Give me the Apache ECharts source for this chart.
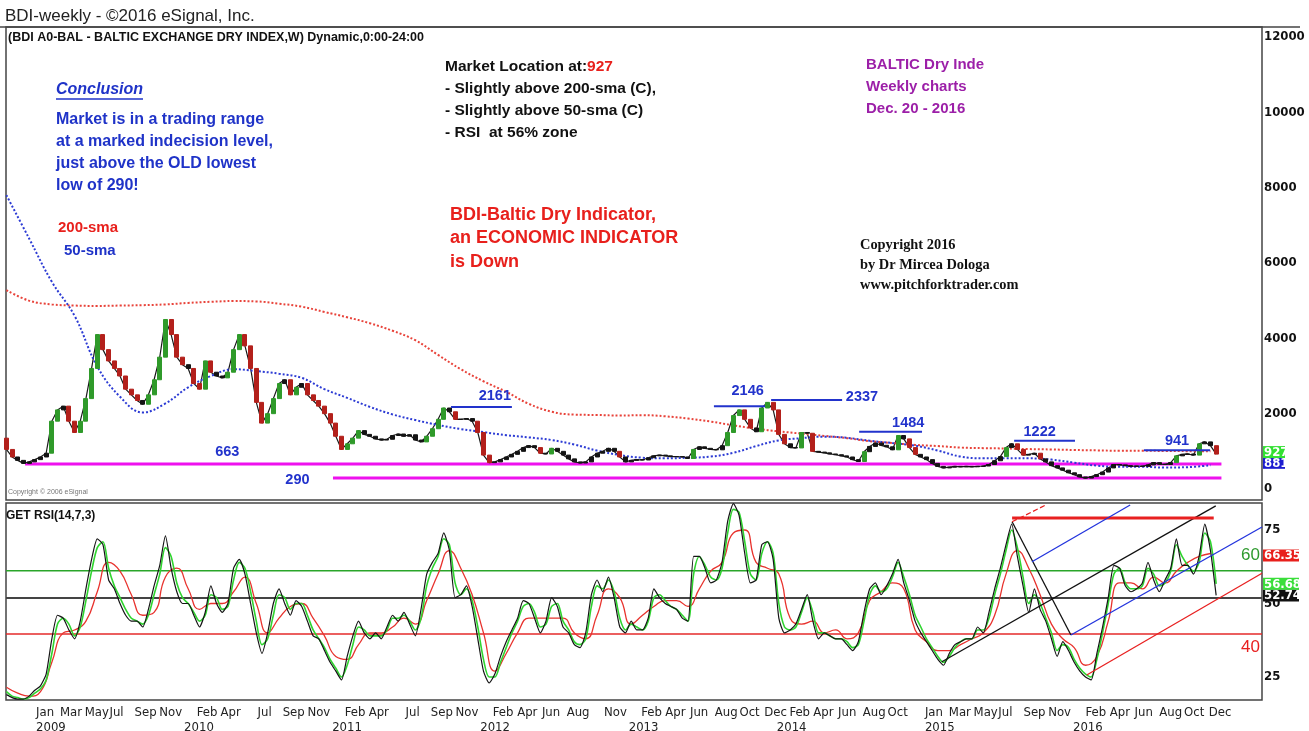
<!DOCTYPE html>
<html><head><meta charset="utf-8">
<script src="https://cdn.jsdelivr.net/npm/echarts@6/dist/echarts.min.js"></script>
<style>html,body{margin:0;padding:0;background:#fff;}#c{width:1309px;height:731px;}</style>
</head><body><div id="c"></div>
<script>
// ---------------- DATA ----------------
const START_DATE = '2008-10-20';   // first bar
const STEP_DAYS = 14;              // one value every two weeks
const firstOpen = 1350;
const bdiClose = [
 1050, 850, 760, 680, 720, 780, 850, 950, 1800, 2100,
 2200, 1800, 1500, 1800, 2400, 3200, 4100, 3700, 3400, 3200,
 3000, 2650, 2500, 2350, 2250, 2500, 2900, 3500, 4500, 4100,
 3500, 3300, 3200, 2800, 2650, 3400, 3100, 3000, 2950, 3100,
 3700, 4100, 3800, 3200, 2300, 1750, 2000, 2400, 2800, 2900,
 2500, 2700, 2800, 2500, 2350, 2200, 2000, 1750, 1400, 1050,
 1200, 1350, 1550, 1450, 1400, 1330, 1300, 1320, 1420, 1460,
 1400, 1440, 1300, 1250, 1400, 1600, 1850, 2150, 2050, 1850,
 1850, 1870, 1800, 1500, 900, 700, 720, 780, 850, 920,
 1000, 1100, 1150, 1100, 950, 930, 1080, 1000, 900, 800,
 720, 690, 720, 850, 950, 1000, 1080, 1000, 850, 720,
 760, 780, 770, 830, 880, 900, 880, 860, 860, 850,
 810, 1050, 1120, 1080, 1050, 1040, 1150, 1500, 1950, 2100,
 1850, 1620, 1520, 2150, 2300, 2100, 1450, 1200, 1100, 1090,
 1500, 1480, 1000, 980, 960, 930, 910, 880, 850, 780,
 730, 990, 1130, 1220, 1160, 1120, 1040, 1420, 1330, 1100,
 920, 850, 780, 680, 600, 560, 580, 600, 590, 600,
 590, 600, 610, 650, 750, 860, 1100, 1200, 1050, 900,
 920, 950, 800, 720, 620, 560, 500, 430, 380, 320,
 290, 330, 380, 450, 560, 650, 640, 620, 600, 610,
 600, 640, 700, 660, 650, 700, 880, 920, 930, 900,
 1200, 1250, 1150, 927
];
const SMA_EVERY = 4; // moving averages read every 4th bar date
const sma50 = [
 7800, 6650, 5500, 4600, 3250, 2450, 2030, 2270, 2700, 3000,
 3180, 3130, 3060, 2950, 2650, 2420, 2180, 1980, 1830, 1700,
 1590, 1510, 1430, 1370, 1300, 1180, 1020, 900, 830, 815,
 830, 860, 960, 1140, 1290, 1350, 1390, 1360, 1280, 1220,
 1150, 1020, 860, 815, 815, 815, 780, 700, 620, 590,
 590, 570, 580, 630
];
const sma200 = [
 5280, 5000, 4900, 4870, 4860, 4870, 4880, 4900, 4940, 4970,
 4990, 4980, 4920, 4840, 4700, 4560, 4400, 4200, 3950, 3560,
 3180, 2860, 2580, 2260, 2050, 1975, 1965, 1950, 1960, 1930,
 1870, 1790, 1690, 1600, 1530, 1470, 1410, 1350, 1270, 1220,
 1170, 1140, 1100, 1085, 1075, 1060, 1050, 1035, 1025, 1015,
 1015, 1010, 1005, 1000
];
const rsiBlack = [
 19, 18, 17.5, 17.5, 18.5, 20.5, 22, 26, 38, 46,
 45, 41, 38, 44, 55, 65, 72, 70, 58, 55,
 50, 46, 44, 44, 42, 48, 56, 63, 73, 62,
 54, 50, 50, 46, 42, 47, 56, 50, 47, 50,
 62, 65, 60, 50, 40, 33, 40, 50, 55, 50,
 46, 51, 49, 44, 39, 38, 34, 30, 27, 24,
 32, 39, 44, 40, 38, 40, 38, 42, 46, 44,
 47, 43, 39, 48, 60, 64, 67, 74, 68, 52,
 53, 56, 49, 38, 27, 23, 26, 32, 37, 41,
 45, 51, 50, 45, 40, 44, 52, 49, 42, 40,
 36, 35, 40, 53, 58, 54, 59, 52, 42, 40,
 44, 41, 41, 45, 55, 52, 50, 49, 48, 45,
 44, 66, 66, 62, 57, 58, 64, 78, 84, 80,
 67, 57, 58, 70, 71, 65, 45, 40, 41, 43,
 48, 53, 44, 38, 40, 39, 38, 38, 36, 34,
 37, 47, 55, 57, 53, 56, 60, 65, 57, 51,
 44, 40, 37, 34, 31, 29, 33, 36, 37, 38,
 38, 42, 40, 47, 55, 62, 70, 77, 66, 56,
 47, 55, 48, 44, 38, 32, 37, 34, 30, 27,
 25, 24, 33, 42, 52, 63, 62, 56, 54, 55,
 57, 64, 58, 54, 58, 62, 72, 63, 63, 60,
 66, 77, 68, 52.74
];
const rsiGreen = [
 20, 18.5, 18, 17.5, 18, 19.5, 21, 24, 33, 43,
 45, 43, 39, 42, 51, 61, 69, 71, 62, 56,
 52, 48, 45, 44, 43, 46, 53, 60, 69, 66,
 57, 52, 50, 47, 44, 46, 53, 52, 48, 49,
 58, 64, 62, 54, 44, 36, 38, 46, 53, 52,
 48, 50, 50, 46, 41, 38, 35, 31, 28, 25,
 29, 36, 42, 41, 39, 39, 39, 41, 45, 45,
 46, 44, 41, 45, 56, 62, 66, 72, 70, 57,
 53, 55, 51, 42, 31, 25, 25, 30, 35, 40,
 44, 49, 50, 47, 42, 43, 49, 50, 44, 41,
 37, 36, 38, 49, 56, 55, 58, 54, 45, 41,
 43, 42, 41, 44, 52, 53, 51, 49, 48, 46,
 44, 60, 66, 63, 59, 58, 62, 74, 82, 81,
 71, 60, 58, 67, 71, 67, 50, 42, 41, 42,
 47, 52, 47, 40, 40, 39, 38, 38, 37, 35,
 36, 44, 53, 56, 54, 55, 59, 64, 59, 53,
 46, 42, 38, 35, 32, 30, 32, 35, 37, 38,
 38, 41, 41, 45, 53, 60, 68, 75, 69, 59,
 50, 53, 50, 45, 40, 34, 36, 35, 31, 28,
 26, 25, 31, 40, 50, 60, 62, 57, 55, 55,
 56, 62, 60, 56, 57, 61, 70, 66, 63, 61,
 64, 74, 71, 56.68
];
const RED_EVERY = 2; // slow RSI line read every 2nd bar date
const rsiRed = [
 21.5, 19.5, 18.5, 20, 30, 40, 41, 44, 54, 64,
 61, 53, 46, 47, 59, 62, 55, 48, 50, 50,
 54, 59, 50, 40, 45, 49, 50, 45, 39, 32,
 31, 36, 40, 40, 42, 45, 43, 51, 60, 68,
 62, 53, 40, 27, 33, 40, 45, 45, 45, 45,
 40, 38, 46, 55, 52, 43, 46, 49, 51, 51,
 49, 55, 61, 64, 74, 75, 64, 62, 60, 45,
 43, 44, 40, 41, 38, 40, 51, 54, 57, 55,
 41, 37, 34, 34, 36, 38, 40, 46, 60, 68,
 62, 53, 43, 38, 35, 29, 32, 44, 57, 57,
 55, 59, 57, 61, 64, 66, 67
];
const lastValues = { price: 927, sma50: 881, rsiSlow: 66.35, rsiMid: 56.68, rsiRaw: 52.74 };
const priceTicks = [0, 2000, 4000, 6000, 8000, 10000, 12000];
const rsiTicks = [25, 50, 75];
const rsiLevels = { upper: 61.1, middle: 51.9, lower: 39.6 };
const monthLabels = [
 ['2009-01','Jan'],['2009-03','Mar'],['2009-05','May'],['2009-07','Jul'],['2009-09','Sep'],['2009-11','Nov'],
 ['2010-02','Feb'],['2010-04','Apr'],['2010-07','Jul'],['2010-09','Sep'],['2010-11','Nov'],
 ['2011-02','Feb'],['2011-04','Apr'],['2011-07','Jul'],['2011-09','Sep'],['2011-11','Nov'],
 ['2012-02','Feb'],['2012-04','Apr'],['2012-06','Jun'],['2012-08','Aug'],['2012-11','Nov'],
 ['2013-02','Feb'],['2013-04','Apr'],['2013-06','Jun'],['2013-08','Aug'],['2013-10','Oct'],['2013-12','Dec'],
 ['2014-02','Feb'],['2014-04','Apr'],['2014-06','Jun'],['2014-08','Aug'],['2014-10','Oct'],
 ['2015-01','Jan'],['2015-03','Mar'],['2015-05','May'],['2015-07','Jul'],['2015-09','Sep'],['2015-11','Nov'],
 ['2016-02','Feb'],['2016-04','Apr'],['2016-06','Jun'],['2016-08','Aug'],['2016-10','Oct'],['2016-12','Dec']
];
const yearLabels = ['2009','2010','2011','2012','2013','2014','2015','2016'];
// horizontal support lines (magenta): [from, to, level, label]
const supportLines = [
 ['2008-12-05','2017-01-01',663,'663'],
 ['2011-01-03','2017-01-01',290,'290']
];
// resistance marks (blue): [from, to, level, label]
const resistanceLines = [
 ['2011-10-21','2012-03-19',2180,'2161'],
 ['2013-07-30','2013-12-03',2200,'2146'],
 ['2013-12-18','2014-06-11',2360,'2337'],
 ['2014-07-23','2014-12-25',1520,'1484'],
 ['2015-08-09','2016-01-06',1280,'1222'],
 ['2016-06-24','2016-12-04',1030,'941']
];
// RSI trend lines (pitchfork): pairs of [date, rsi]
const rsiTrend = {
 channelBlack: [['2015-02-12',30.2],['2016-12-18',83.2]],
 handleBlack:  [['2015-08-04',77.8],['2015-12-27',39.3]],
 topRed:       [['2015-08-04',79.1],['2016-12-13',79.1]],
 upperRedDash: [['2015-08-04',77.8],['2015-10-26',83.5]],
 upperBlue:    [['2015-09-22',64.2],['2016-05-21',83.5]],
 medianBlue:   [['2015-12-27',39.3],['2017-04-11',76.0]],
 lowerRed:     [['2016-02-04',25.7],['2017-04-11',60.3]]
};
const X_MIN = '2008-10-19', X_MAX = '2017-04-11';

// ---------------- BUILD ----------------
const DAY = 86400000;
const ts = s => { const p = s.split('-').map(Number); return Date.UTC(p[0], p[1]-1, p[2] || 1); };
const t0 = ts(START_DATE);
const dates = bdiClose.map((_, i) => t0 + i * STEP_DAYS * DAY);
const xMin = ts(X_MIN), xMax = ts(X_MAX);

const UP = '#2f9a2a', DOWN = '#b3201b', FLAT = '#141414';
const candles = bdiClose.map((c, i) => {
  const o = i === 0 ? firstOpen : bdiClose[i-1];
  const d = c - o;
  const col = d >= 150 ? UP : (d <= -150 ? DOWN : FLAT);
  return { value: [dates[i], o, c, Math.min(o,c), Math.max(o,c)],
           itemStyle: { color: col, color0: col, borderColor: col, borderColor0: col } };
});
const closeData = bdiClose.map((v, i) => [dates[i], v]);
const sma50Data = sma50.map((v, j) => [dates[j*SMA_EVERY], v]);
const sma200Data = sma200.map((v, j) => [dates[j*SMA_EVERY], v]);
const blackData = rsiBlack.map((v, i) => [dates[i], v]);
const greenData = rsiGreen.map((v, i) => [dates[i], v]);
const redData = rsiRed.map((v, k) => [dates[k*RED_EVERY], v]);

const monthMap = {}, monthTicks = [];
monthLabels.forEach(([m, name]) => { const t = ts(m); monthMap[t] = name; monthTicks.push(t); });
const yearMap = {}, yearTicks = [];
yearLabels.forEach(y => { const t = ts(y + '-01'); yearMap[t] = y; yearTicks.push(t); });

const narrow = "'Liberation Sans Narrow','Arial Narrow','DejaVu Sans Condensed','Liberation Sans',sans-serif";
const sans = "'Liberation Sans',Arial,sans-serif";

function seg(points, xi, color, width, type, z) {
  return { type: 'line', xAxisIndex: xi, yAxisIndex: xi, data: points, symbol: 'none', silent: true,
           lineStyle: { color, width, type: type || 'solid' }, z: z || 3, animation: false };
}
const series = [];
series.push(seg(closeData, 0, '#1a1a1a', 1.2, 'solid', 3));
series.push({ type: 'candlestick', xAxisIndex: 0, yAxisIndex: 0, data: candles, barWidth: 4.5,
  encode: { x: 0, y: [1, 2, 3, 4] }, silent: true, z: 4 });
series.push(Object.assign(seg(sma200Data, 0, '#e8433a', 2, 'dotted', 3), { smooth: 0.4 }));
series.push(Object.assign(seg(sma50Data, 0, '#2c3bd4', 2, 'dotted', 3), { smooth: 0.4 }));
supportLines.forEach(([a, b, v]) => series.push(seg([[ts(a), v], [ts(b), v]], 0, '#ee11ee', 3, 'solid', 2)));
resistanceLines.forEach(([a, b, v]) => series.push(seg([[ts(a), v], [ts(b), v]], 0, '#2233cc', 2, 'solid', 5)));
// RSI panel
series.push(seg([[xMin, rsiLevels.upper], [xMax, rsiLevels.upper]], 1, '#2aa52a', 1.5));
series.push(seg([[xMin, rsiLevels.middle], [xMax, rsiLevels.middle]], 1, '#444', 2));
series.push(seg([[xMin, rsiLevels.lower], [xMax, rsiLevels.lower]], 1, '#e52a2a', 1.5));
series.push(Object.assign(seg(redData, 1, '#e8322d', 1.3, 'solid', 4), { smooth: 0.5 }));
series.push(Object.assign(seg(greenData, 1, '#2fd42f', 1.6, 'solid', 5), { smooth: 0.3 }));
series.push(Object.assign(seg(blackData, 1, '#151515', 1.2, 'solid', 6), { smooth: 0.2 }));
const trendStyle = {
 channelBlack: ['#111', 1.3, 'solid'], handleBlack: ['#111', 1.3, 'solid'],
 topRed: ['#e82020', 3, 'solid'], upperRedDash: ['#e82020', 1.3, 'dashed'],
 upperBlue: ['#2233dd', 1.3, 'solid'], medianBlue: ['#2233dd', 1.3, 'solid'], lowerRed: ['#e82020', 1.3, 'solid']
};
Object.keys(rsiTrend).forEach(k => {
  const s = trendStyle[k];
  series.push(seg(rsiTrend[k].map(([d, v]) => [ts(d), v]), 1, s[0], s[1], s[2], 7));
});

const chart = echarts.init(document.getElementById('c'));
const yLabel = { margin: 2, fontSize: 13, fontFamily: narrow, color: '#111', fontWeight: 'bold', formatter: v => String(v) };
const xHidden = { axisLine: { show: false }, axisTick: { show: false }, splitLine: { show: false } };
chart.setOption({
  animation: false,
  backgroundColor: '#fff',
  grid: [
    { left: 6, right: 47, top: 27, height: 473, show: true, borderColor: '#444', borderWidth: 1.5, outerBoundsMode: 'none', containLabel: false },
    { left: 6, right: 47, top: 503, height: 197, show: true, borderColor: '#444', borderWidth: 1.5, outerBoundsMode: 'none', containLabel: false }
  ],
  xAxis: [
    Object.assign({ type: 'value', gridIndex: 0, min: xMin, max: xMax, axisLabel: { show: false } }, xHidden),
    Object.assign({ type: 'value', gridIndex: 1, min: xMin, max: xMax, position: 'bottom',
      axisLabel: { customValues: monthTicks, formatter: v => monthMap[v] || '', align: 'left',
        showMinLabel: true, showMaxLabel: true, hideOverlap: false,
        margin: 6, fontSize: 13, fontFamily: narrow, color: '#222' } }, xHidden),
    Object.assign({ type: 'value', gridIndex: 1, min: xMin, max: xMax, position: 'bottom', offset: 15,
      axisLabel: { customValues: yearTicks, formatter: v => yearMap[v] || '', align: 'left',
        showMinLabel: true, showMaxLabel: true, hideOverlap: false,
        margin: 6, fontSize: 13, fontFamily: narrow, color: '#222' } }, xHidden)
  ],
  yAxis: [
    { type: 'value', gridIndex: 0, position: 'right', min: -292, max: 12265, axisLine: { show: false },
      axisTick: { show: false }, splitLine: { show: false },
      axisLabel: Object.assign({ customValues: priceTicks }, yLabel) },
    { type: 'value', gridIndex: 1, position: 'right', min: 17.18, max: 84.18, axisLine: { show: false },
      axisTick: { show: false }, splitLine: { show: false },
      axisLabel: Object.assign({ customValues: rsiTicks }, yLabel) }
  ],
  series
});

// ---------------- ANNOTATIONS ----------------
function txt(x, y, text, font, fill, align) {
  return { type: 'text', x, y, silent: true, z: 20,
    style: { text, font, fill, textAlign: align || 'left', textVerticalAlign: 'middle', align: align || 'left', verticalAlign: 'middle' } };
}
const blue = '#1f33c8', purple = '#9c1fa8', red = '#e8201c';
const els = [];
els.push({ type: 'line', shape: { x1: 0, y1: 27, x2: 1300, y2: 27 }, style: { stroke: '#444', lineWidth: 1.5 }, silent: true, z: 20 });
els.push(txt(5, 16, 'BDI-weekly - ©2016 eSignal, Inc.', '17px ' + sans, '#222'));
els.push(txt(8, 38, '(BDI A0-BAL - BALTIC EXCHANGE DRY INDEX,W) Dynamic,0:00-24:00', 'bold 12.5px ' + sans, '#111'));
els.push(txt(56, 90, 'Conclusion', 'italic bold 16px ' + sans, blue));
els.push({ type: 'line', shape: { x1: 56, y1: 99, x2: 143, y2: 99 }, style: { stroke: blue, lineWidth: 1.3 }, silent: true, z: 20 });
['Market is in a trading range', 'at a marked indecision level,', 'just above the OLD lowest', 'low of 290!']
  .forEach((s, k) => els.push(txt(56, 120 + 22 * k, s, 'bold 16px ' + sans, blue)));
els.push(txt(58, 228, '200-sma', 'bold 15px ' + sans, red));
els.push(txt(64, 251, '50-sma', 'bold 15px ' + sans, blue));
els.push({ type: 'text', x: 445, y: 67, silent: true, z: 20,
  style: { text: '{a|Market Location at:}{b|' + lastValues.price + '}', textVerticalAlign: 'middle', verticalAlign: 'middle',
    rich: { a: { font: 'bold 15.5px ' + sans, fill: '#111', color: '#111' }, b: { font: 'bold 15.5px ' + sans, fill: red, color: red } } } });
['- Slightly above 200-sma (C),', '- Slightly above 50-sma (C)', '- RSI  at 56% zone']
  .forEach((s, k) => els.push(txt(445, 89 + 22 * k, s, 'bold 15.5px ' + sans, '#111')));
['BDI-Baltic Dry Indicator,', 'an ECONOMIC INDICATOR', 'is Down']
  .forEach((s, k) => els.push(txt(450, 215 + 23.5 * k, s, 'bold 18px ' + sans, red)));
['BALTIC Dry Inde', 'Weekly charts', 'Dec. 20 - 2016']
  .forEach((s, k) => els.push(txt(866, 65 + 22 * k, s, 'bold 15px ' + sans, purple)));
['Copyright 2016', 'by Dr Mircea Dologa', 'www.pitchforktrader.com']
  .forEach((s, k) => els.push(txt(860, 245 + 20 * k, s, 'bold 14.4px \'Liberation Serif\',serif', '#111')));
els.push(txt(8, 492, 'Copyright © 2006 eSignal', '7px ' + sans, '#777'));
els.push(txt(6, 516, 'GET RSI(14,7,3)', 'bold 12px ' + sans, '#111'));
els.push(txt(1241, 555, '60', '17px ' + sans, '#2e9a2e'));
els.push(txt(1241, 647, '40', '17px ' + sans, '#e82020'));

// level labels, placed from the data values through the axes
function px(xi, d, v) { return chart.convertToPixel({ xAxisIndex: xi, yAxisIndex: xi }, [d, v]); }
const lvlLabelAt = { '663': [0.169, -12], '290': [-0.04, 2], '2161': [0.72, -11], '2146': [0.66, -15],
  '2337': [1.28, -3], '1484': [0.78, -9], '1222': [0.42, -9], '941': [0.5, -9] };
supportLines.concat(resistanceLines).forEach(([a, b, v, lab]) => {
  const p1 = px(0, ts(a), v), p2 = px(0, ts(b), v);
  const f = lvlLabelAt[lab];
  els.push(txt(p1[0] + (p2[0] - p1[0]) * f[0], p1[1] + f[1], lab, 'bold 14.5px ' + sans, '#2233cc', 'center'));
});
// right-side value flags
function flag(xi, v, text, bg, dy, w) {
  const y = px(xi, xMax, v)[1] + (dy || 0);
  els.push({ type: 'rect', shape: { x: 1263, y: y - 6, width: w, height: 12 }, style: { fill: bg }, silent: true, z: 30 });
  els.push(Object.assign(txt(1264, y + 0.5, text, 'bold 13px ' + narrow, '#fff'), { z: 31 }));
}
flag(0, lastValues.sma50, String(lastValues.sma50), '#1c1cd0', 7, 22);
flag(0, lastValues.price, String(lastValues.price), '#33e033', -2, 22);
flag(1, lastValues.rsiRaw, lastValues.rsiRaw.toFixed(2), '#111', 0, 36);
flag(1, lastValues.rsiMid, lastValues.rsiMid.toFixed(2), '#3ade3a', 0, 36);
flag(1, lastValues.rsiSlow, lastValues.rsiSlow.toFixed(2), '#e8201c', 0, 36);
chart.setOption({ graphic: { elements: els } });
</script>
</body></html>
